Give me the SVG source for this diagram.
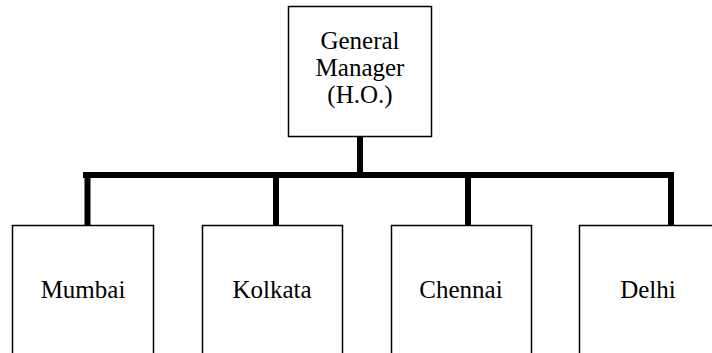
<svg xmlns="http://www.w3.org/2000/svg" width="712" height="353" viewBox="0 0 712 353">
  <style>
    .box { fill: #ffffff; stroke: #000000; stroke-width: 1.5; }
    .label { font-family: "Liberation Serif", "Times New Roman", serif; font-size: 25px; fill: #000000; text-anchor: middle; }
    .link { stroke: #000000; stroke-width: 6; fill: none; stroke-linecap: butt; }
  </style>
  <rect width="712" height="353" fill="#ffffff"/>

  <!-- connectors: trunk, bus bar and drops to each branch -->
  <g id="connectors">
    <line class="link" x1="360" y1="137" x2="360" y2="175"/>
    <line class="link" x1="83" y1="175" x2="674" y2="175"/>
    <line class="link" x1="87.5" y1="175" x2="87.5" y2="225"/>
    <line class="link" x1="276" y1="175" x2="276" y2="225"/>
    <line class="link" x1="468" y1="175" x2="468" y2="225"/>
    <line class="link" x1="671" y1="172" x2="671" y2="225"/>
  </g>

  <g id="general-manager">
    <rect class="box" x="288.5" y="6.5" width="143" height="130"/>
    <text class="label" x="360" y="49">General</text>
    <text class="label" x="360" y="75.5">Manager</text>
    <text class="label" x="360" y="102.5">(H.O.)</text>
  </g>

  <g id="mumbai">
    <rect class="box" x="12.5" y="225.5" width="141" height="140"/>
    <text class="label" x="83" y="297.5">Mumbai</text>
  </g>

  <g id="kolkata">
    <rect class="box" x="202.5" y="225.5" width="140" height="140"/>
    <text class="label" x="272" y="297.5">Kolkata</text>
  </g>

  <g id="chennai">
    <rect class="box" x="391.5" y="225.5" width="140" height="140"/>
    <text class="label" x="461" y="297.5">Chennai</text>
  </g>

  <g id="delhi">
    <rect class="box" x="579.5" y="225.5" width="140" height="140"/>
    <text class="label" x="648" y="297.5">Delhi</text>
  </g>
</svg>
